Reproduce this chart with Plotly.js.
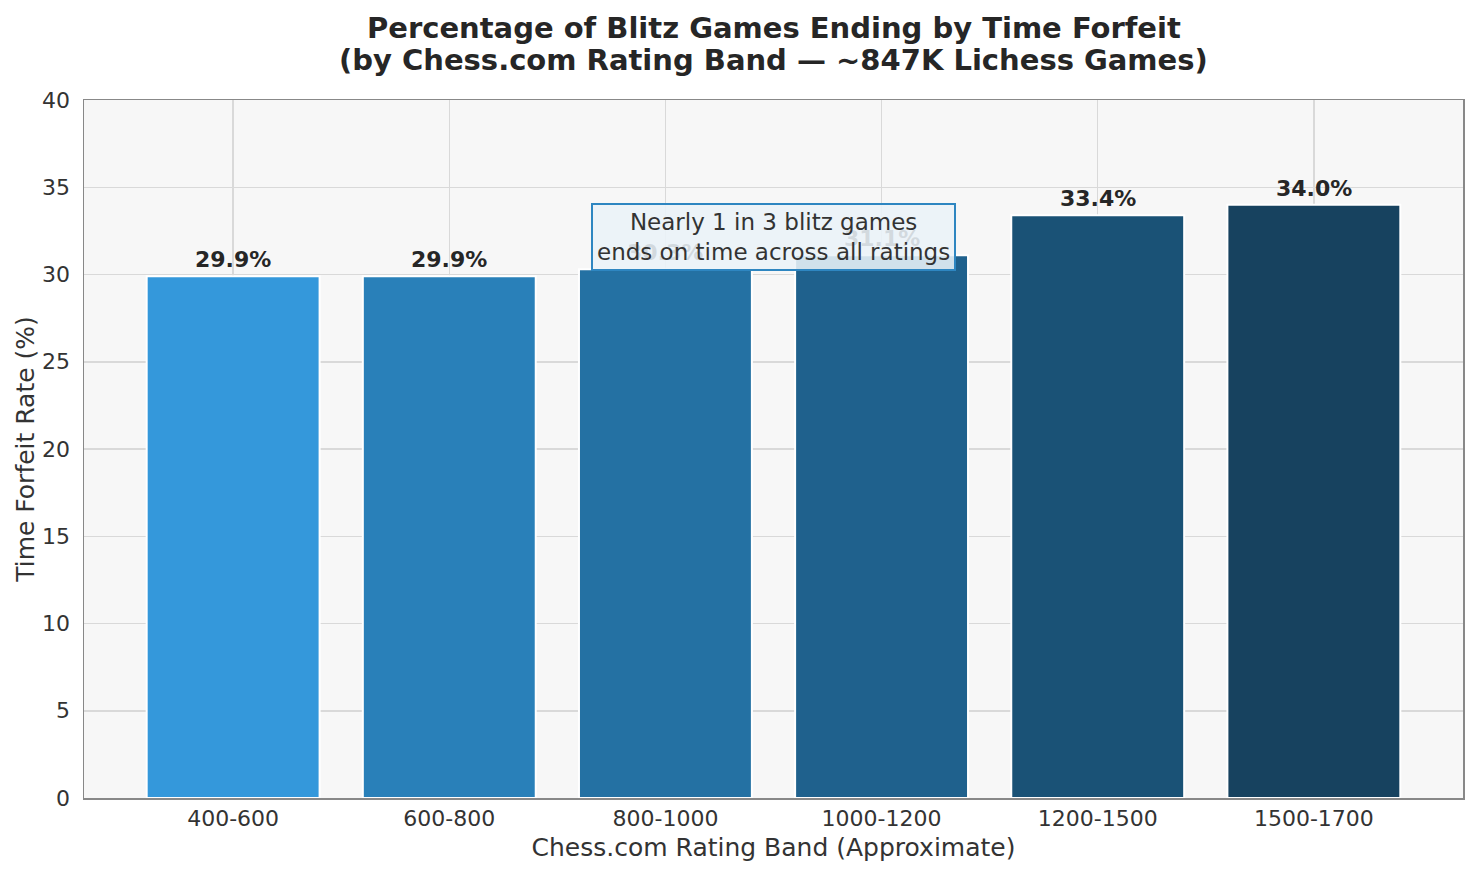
<!DOCTYPE html>
<html>
<head>
<meta charset="utf-8">
<script src="https://cdn.plot.ly/plotly-3.0.1.min.js"></script>
<style>html,body{margin:0;padding:0;background:#fff;}#chart{width:1477px;height:876px;}</style>
</head>
<body>
<div id="chart"></div>
<script>
const categories = ["400-600", "600-800", "800-1000", "1000-1200", "1200-1500", "1500-1700"];
const forfeitRates = [29.9, 29.9, 30.3, 31.1, 33.4, 34.0];
const barColors = ["#3498db", "#2980b9", "#2471a3", "#1f618d", "#1a5276", "#17425f"];
const yTicks = [0, 5, 10, 15, 20, 25, 30, 35, 40];
const titleLines = ["Percentage of Blitz Games Ending by Time Forfeit", "(by Chess.com Rating Band — ~847K Lichess Games)"];
const noteText = "Nearly 1 in 3 blitz games<br>ends on time across all ratings";

const font = "DejaVu Sans, sans-serif";

const trace = {
  type: "bar",
  x: categories,
  y: forfeitRates,
  width: 0.8,
  marker: {color: barColors, line: {color: "#ffffff", width: 2}},
  hoverinfo: "x+y"
};

const labelAnns = categories.map((c, i) => ({
  x: c, y: forfeitRates[i], xref: "x", yref: "y",
  text: "<b>" + forfeitRates[i].toFixed(1) + "%</b>",
  showarrow: false, yanchor: "bottom", yshift: 2,
  font: {family: font, size: 22, color: "#262626"}
}));

const titleAnns = [
  {text: "<b>" + titleLines[0] + "</b>", x: 0.5, y: 1.1032},
  {text: "<b>" + titleLines[1] + "</b>", x: 0.5, y: 1.0573}
].map(a => Object.assign(a, {
  xref: "paper", yref: "paper", xanchor: "center", yanchor: "middle",
  showarrow: false, font: {family: font, size: 29, color: "#262626"}
}));

const layout = {
  width: 1477, height: 876,
  margin: {l: 84, r: 14, t: 100, b: 78},
  paper_bgcolor: "#ffffff",
  plot_bgcolor: "#f7f7f7",
  showlegend: false,
  bargap: 0.2,
  xaxis: {
    range: [-0.69, 5.69],
    showgrid: true, gridcolor: "#d9d9d9", gridwidth: 1.5,
    showline: true, linecolor: "#888888", linewidth: 1.5, mirror: true,
    ticks: "", tickfont: {family: font, size: 22, color: "#333333"},
    ticklabelstandoff: 0,
    title: {text: "Chess.com Rating Band (Approximate)", font: {family: font, size: 25, color: "#333333"}, standoff: 8},
    zeroline: false
  },
  yaxis: {
    range: [0, 40],
    tickvals: yTicks,
    showgrid: true, gridcolor: "#d9d9d9", gridwidth: 1.5,
    showline: true, linecolor: "#888888", linewidth: 1.5, mirror: true,
    ticks: "", tickfont: {family: font, size: 22, color: "#333333"},
    ticklabelstandoff: 8,
    title: {text: "Time Forfeit Rate (%)", font: {family: font, size: 25, color: "#333333"}, standoff: 0},
    zeroline: false
  },
  annotations: labelAnns.concat(titleAnns, [{
    x: 2.5, y: 32.15, xref: "x", yref: "y",
    text: noteText, showarrow: false,
    font: {family: font, size: 23, color: "#333333"},
    bgcolor: "rgba(234,242,248,0.88)",
    bordercolor: "#2e86c1", borderwidth: 2, borderpad: 4,
    align: "center"
  }])
};

Plotly.newPlot("chart", [trace], layout, {displayModeBar: false, staticPlot: true});
</script>
</body>
</html>
